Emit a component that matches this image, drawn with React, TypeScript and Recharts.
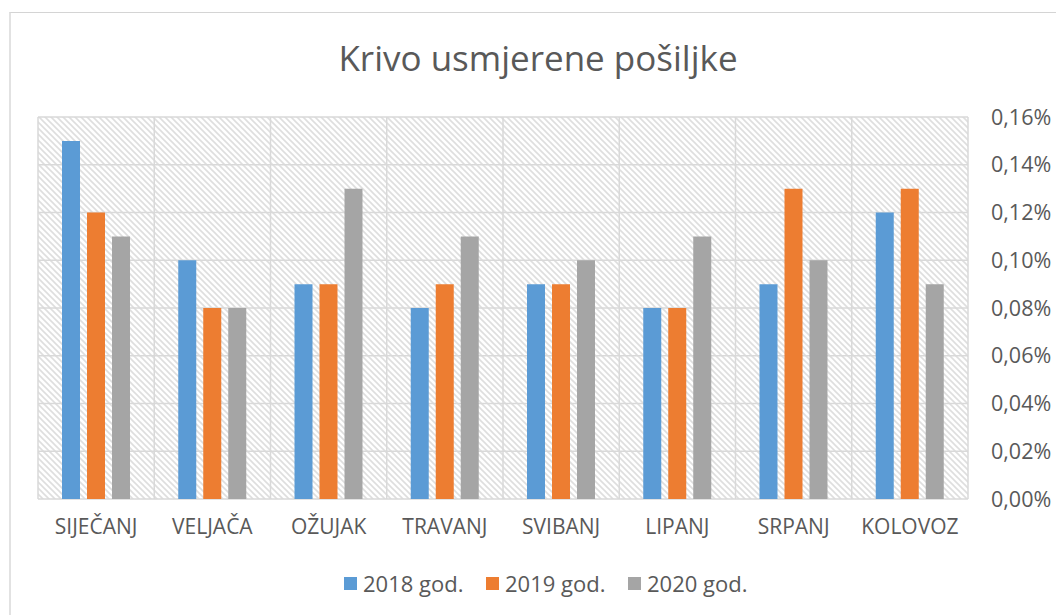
import React from 'react';
import { BarChart, Bar, XAxis, YAxis, CartesianGrid } from 'recharts';

const months = ['SIJEČANJ', 'VELJAČA', 'OŽUJAK', 'TRAVANJ', 'SVIBANJ', 'LIPANJ', 'SRPANJ', 'KOLOVOZ'];
const y2018 = [0.15, 0.10, 0.09, 0.08, 0.09, 0.08, 0.09, 0.12];
const y2019 = [0.12, 0.08, 0.09, 0.09, 0.09, 0.08, 0.13, 0.13];
const y2020 = [0.11, 0.08, 0.13, 0.11, 0.10, 0.11, 0.10, 0.09];
const yTicks = [0, 0.02, 0.04, 0.06, 0.08, 0.10, 0.12, 0.14, 0.16];

const seriesNames = ['2018 god.', '2019 god.', '2020 god.'];
const seriesKeys = ['y2018', 'y2019', 'y2020'];
const seriesColors = ['#5B9BD5', '#ED7D31', '#A5A5A5'];

const data = months.map((m, i) => ({ month: m, y2018: y2018[i], y2019: y2019[i], y2020: y2020[i] }));

const FONT = '"Open Sans", "Noto Sans", sans-serif';
const TEXT = '#595959';
const GRID = '#d9d9d9';

const fmt = (v: number) => v.toFixed(2).replace('.', ',') + '%';

export default function App() {
  return (
    <div style={{ position: 'absolute', left: 0, top: 0, width: 1056, height: 615, overflow: 'hidden', background: '#fff', fontFamily: FONT }}>
      <div style={{ position: 'absolute', left: 9, top: 12, width: 1100, height: 700, borderTop: '1px solid #d4d4d4', borderLeft: '2px solid #e2e2e2' }} />
      <div style={{ position: 'absolute', left: 9, width: 1058, top: 33, textAlign: 'center', fontSize: 35, color: TEXT, lineHeight: '50px' }}>
        Krivo usmjerene pošiljke
      </div>
      <div style={{ position: 'absolute', left: 0, top: 0 }}>
        <BarChart width={1056} height={615} data={data} margin={{ top: 117, right: 8, bottom: 76, left: 38 }} barSize={18} barGap={7}>
          <defs>
            <pattern id="hatch" patternUnits="userSpaceOnUse" width="6" height="6">
              <rect width="6" height="6" fill="#ffffff" />
              <path d="M0,0 L6,6 M-3,3 L3,9 M3,-3 L9,3" stroke="#dedede" strokeWidth="1.6" />
            </pattern>
          </defs>
          <CartesianGrid
            stroke={GRID}
            strokeWidth={1.5}
            fill="url(#hatch)"
            fillOpacity={1}
            verticalCoordinatesGenerator={({ offset }: any) =>
              months.map((_, i) => offset.left + (i * offset.width) / months.length).concat([offset.left + offset.width])
            }
          />
          <XAxis
            dataKey="month"
            height={40}
            tickLine={false}
            axisLine={false}
            tickSize={0}
            tickMargin={20}
            tick={{ fill: TEXT, fontSize: 21, fontFamily: FONT }}
            interval={0}
          />
          <YAxis
            orientation="right"
            width={80}
            domain={[0, 0.16]}
            ticks={yTicks}
            tickFormatter={fmt}
            tickLine={false}
            axisLine={false}
            tickSize={0}
            tickMargin={23}
            tick={{ fill: TEXT, fontSize: 21.5, fontFamily: FONT }}
          />
          {seriesKeys.map((k, i) => (
            <Bar key={k} dataKey={k} name={seriesNames[i]} fill={seriesColors[i]} isAnimationActive={false} />
          ))}
        </BarChart>
      </div>
      <div style={{ position: 'absolute', left: 344, top: 568, display: 'flex', alignItems: 'center', fontSize: 22, color: TEXT, lineHeight: '30px' }}>
        {seriesNames.map((n, i) => (
          <div key={n} style={{ display: 'flex', alignItems: 'center', width: 142 }}>
            <span style={{ display: 'inline-block', width: 13, height: 13, background: seriesColors[i], marginRight: 6 }} />
            <span>{n}</span>
          </div>
        ))}
      </div>
    </div>
  );
}
